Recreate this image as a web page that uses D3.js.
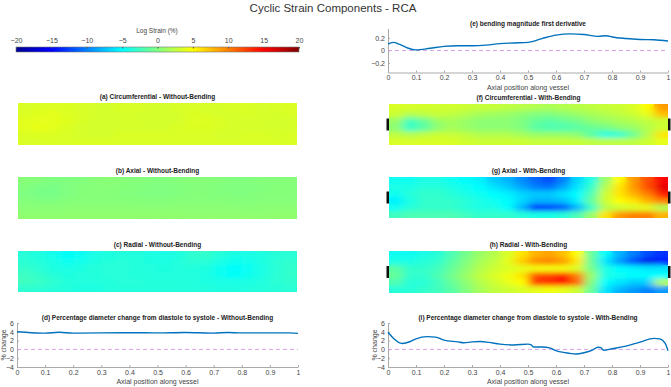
<!DOCTYPE html>
<html>
<head>
<meta charset="utf-8">
<script src="https://cdn.jsdelivr.net/npm/d3@7"></script>
<style>
  body { margin: 0; background: #fff; }
  text { font-family: "Liberation Sans", Arial, sans-serif; }
</style>
</head>
<body>
<div id="chart"></div>
<script>
// ---- data ----
const xTicks = [0, 0.1, 0.2, 0.3, 0.4, 0.5, 0.6, 0.7, 0.8, 0.9, 1]
const cbarTicks = [-20, -15, -10, -5, 0, 5, 10, 15, 20]

// (e) bending magnitude first derivative
const bendX = [0, 0.01, 0.02, 0.04, 0.07, 0.1, 0.15, 0.2, 0.25, 0.3, 0.35, 0.4, 0.45, 0.5, 0.55, 0.6, 0.65, 0.7, 0.75, 0.78, 0.8, 0.85, 0.9, 0.95, 1]
const bendY = [0.1, 0.12, 0.13, 0.1, 0.04, 0.01, 0.035, 0.065, 0.075, 0.075, 0.085, 0.11, 0.12, 0.13, 0.19, 0.245, 0.265, 0.255, 0.225, 0.235, 0.215, 0.19, 0.175, 0.17, 0.15]

// (d) diameter change without bending
const diamNoX = [0, 0.05, 0.1, 0.15, 0.2, 0.3, 0.4, 0.5, 0.6, 0.7, 0.75, 0.8, 0.9, 0.97, 1]
const diamNoY = [4.0, 3.8, 3.7, 3.9, 3.7, 3.75, 3.8, 3.75, 3.85, 3.7, 3.85, 3.75, 3.75, 3.75, 3.65]

// (i) diameter change with bending
const diamBX = [0, 0.02, 0.05, 0.08, 0.1, 0.14, 0.17, 0.2, 0.25, 0.27, 0.3, 0.33, 0.36, 0.4, 0.45, 0.5, 0.51, 0.52, 0.55, 0.58, 0.6, 0.65, 0.67, 0.7, 0.73, 0.75, 0.76, 0.77, 0.8, 0.85, 0.9, 0.95, 0.97, 0.99, 1]
const diamBY = [3.9, 2.5, 1.35, 1.8, 2.4, 2.9, 2.8, 2.1, 1.7, 1.5, 1.7, 1.8, 1.6, 1.2, 1.0, 1.2, 1.1, 0.55, 0.55, 0.3, -0.3, -0.9, -1.05, -0.75, -0.15, 0.5, 0.4, -0.2, 0.15, 0.75, 1.65, 2.5, 2.4, 1.35, -0.3]

// strain maps: 6 rows (top to bottom) x 20 segments along vessel
const circNoBend = [
  [3.5, 3.6, 3.7, 3.6, 3.5, 3.4, 3.4, 3.5, 3.5, 3.4, 3.4, 3.5, 3.5, 3.4, 3.4, 3.5, 3.5, 3.4, 3.5, 3.6],
  [3.6, 3.8, 3.9, 3.7, 3.5, 3.4, 3.3, 3.4, 3.4, 3.3, 3.3, 3.4, 3.6, 3.5, 3.4, 3.4, 3.5, 3.4, 3.4, 3.5],
  [3.8, 4.0, 4.0, 3.8, 3.5, 3.3, 3.3, 3.4, 3.4, 3.3, 3.3, 3.4, 3.7, 3.7, 3.5, 3.4, 3.4, 3.4, 3.3, 3.4],
  [3.9, 4.1, 3.9, 3.6, 3.4, 3.3, 3.3, 3.4, 3.4, 3.4, 3.4, 3.5, 3.6, 3.6, 3.5, 3.4, 3.4, 3.4, 3.3, 3.4],
  [3.6, 3.7, 3.6, 3.5, 3.4, 3.4, 3.4, 3.5, 3.5, 3.5, 3.5, 3.5, 3.5, 3.5, 3.4, 3.4, 3.5, 3.5, 3.4, 3.5],
  [3.5, 3.5, 3.5, 3.5, 3.5, 3.5, 3.5, 3.5, 3.5, 3.5, 3.5, 3.5, 3.5, 3.5, 3.5, 3.5, 3.5, 3.5, 3.5, 3.5]
]
const axialNoBend = [
  [0.3, 0.2, 0.0, 0.0, 0.1, 0.3, 0.4, 0.3, 0.2, 0.1, 0.1, 0.2, 0.3, 0.3, 0.2, 0.1, 0.1, 0.2, 0.2, 0.3],
  [0.1, -0.2, -0.3, 0.0, 0.2, 0.3, 0.3, 0.2, 0.1, 0.0, 0.0, 0.1, 0.2, 0.2, 0.1, 0.0, 0.0, 0.1, 0.2, 0.2],
  [0.0, -0.3, -0.3, 0.0, 0.2, 0.2, 0.2, 0.1, 0.1, 0.0, 0.0, 0.1, 0.2, 0.2, 0.1, 0.1, 0.1, 0.2, 0.2, 0.2],
  [0.2, 0.1, 0.1, 0.2, 0.3, 0.3, 0.3, 0.3, 0.2, 0.2, 0.2, 0.3, 0.3, 0.3, 0.3, 0.2, 0.2, 0.3, 0.3, 0.3],
  [0.4, 0.4, 0.4, 0.5, 0.5, 0.5, 0.5, 0.5, 0.5, 0.5, 0.5, 0.5, 0.5, 0.5, 0.5, 0.5, 0.4, 0.4, 0.5, 0.5],
  [0.6, 0.6, 0.6, 0.6, 0.6, 0.6, 0.6, 0.6, 0.6, 0.6, 0.6, 0.6, 0.6, 0.6, 0.6, 0.6, 0.6, 0.6, 0.6, 0.6]
]
const radialNoBend = [
  [-3.5, -3.8, -4.2, -4.8, -4.6, -4.0, -3.8, -3.6, -3.7, -3.9, -4.0, -3.8, -3.2, -3.0, -3.5, -3.9, -4.0, -3.8, -3.5, -3.4],
  [-3.4, -3.6, -4.0, -4.5, -4.3, -3.8, -3.6, -3.5, -3.6, -3.8, -3.9, -3.7, -3.3, -3.4, -4.0, -4.4, -4.2, -3.8, -3.4, -3.2],
  [-3.0, -3.4, -3.8, -4.0, -3.8, -3.6, -3.5, -3.5, -3.6, -3.7, -3.8, -3.7, -3.6, -3.8, -4.5, -4.9, -4.6, -4.0, -3.4, -3.0],
  [-2.6, -3.0, -3.5, -3.8, -3.7, -3.6, -3.5, -3.5, -3.6, -3.7, -3.7, -3.7, -3.7, -3.9, -4.4, -4.8, -4.4, -3.9, -3.4, -3.0],
  [-2.5, -2.7, -3.2, -3.6, -3.7, -3.7, -3.6, -3.5, -3.5, -3.6, -3.6, -3.6, -3.7, -3.8, -4.0, -4.0, -3.9, -3.7, -3.4, -3.2],
  [-3.2, -3.3, -3.5, -3.7, -3.8, -3.8, -3.7, -3.6, -3.6, -3.6, -3.6, -3.6, -3.7, -3.7, -3.8, -3.8, -3.7, -3.6, -3.5, -3.4]
]
const circBend = [
  [3.5, 3.5, 3.3, 3.2, 3.2, 3.0, 2.8, 2.8, 2.5, 2.3, 2.0, 1.8, 2.0, 2.3, 2.5, 2.8, 3.0, 3.5, 5.0, 9.0],
  [3.0, 2.0, 2.5, 2.8, 2.5, 2.0, 1.5, 1.2, 1.0, 0.5, 0.0, 0.0, 0.5, 1.0, 1.5, 2.0, 2.5, 3.0, 4.0, 7.5],
  [1.0, -2.5, -1.0, 1.0, 1.5, 1.0, 0.5, 0.5, 0.5, 0.0, -1.0, -1.5, -1.0, -0.5, 0.5, 1.0, 1.5, 2.0, 2.5, 3.0],
  [0.5, -3.0, -1.5, 0.5, 1.5, 1.0, 0.5, 0.5, 0.5, 0.0, -1.5, -2.0, -2.0, -1.5, -1.0, -0.5, 0.5, 1.0, 2.0, 3.0],
  [2.5, 2.0, 2.5, 3.0, 2.8, 2.5, 2.0, 2.0, 2.0, 1.5, 1.0, 1.0, 1.0, 0.5, -1.5, -4.0, -3.5, -1.0, 2.0, 6.0],
  [3.5, 3.5, 3.5, 3.5, 3.5, 3.2, 3.0, 3.0, 3.0, 3.0, 2.8, 2.8, 2.8, 2.8, 2.5, 2.5, 2.5, 2.5, 3.0, 4.0]
]
const axialBend = [
  [-4.5, -4.5, -4.0, -4.0, -4.5, -5.0, -5.5, -7.0, -8.0, -9.5, -11.0, -12.0, -10.0, -6.5, -4.0, 1.0, 5.0, 9.0, 12.0, 15.0],
  [-4.0, -4.0, -3.5, -3.5, -4.0, -4.5, -5.0, -6.0, -7.0, -8.5, -10.0, -10.5, -8.5, -6.0, -3.0, 2.0, 6.0, 9.0, 12.0, 16.0],
  [-4.5, -3.5, -3.0, -3.0, -3.5, -4.0, -4.5, -5.0, -5.5, -6.5, -7.0, -7.0, -6.0, -5.0, -2.0, 3.0, 6.0, 8.0, 10.0, 14.0],
  [-5.5, -4.0, -3.0, -3.0, -3.0, -3.5, -4.0, -4.5, -5.0, -6.5, -8.0, -8.0, -7.5, -5.5, -1.0, 3.0, 5.0, 6.0, 8.0, 10.0],
  [-4.5, -3.5, -3.0, -3.0, -3.0, -3.5, -4.0, -4.0, -5.0, -8.0, -14.0, -13.5, -12.0, -8.0, -3.0, 2.0, 3.0, 3.5, 4.0, 2.0],
  [-2.5, -2.0, -2.0, -2.0, -2.0, -2.5, -3.0, -3.0, -3.0, -3.5, -4.0, -4.0, -3.5, -2.0, 1.0, 6.0, 9.0, 10.0, 10.0, 8.0]
]
const radialBend = [
  [-4.5, -4.5, -4.0, -3.5, -2.0, -0.5, 1.0, 2.0, 3.5, 6.0, 8.0, 8.5, 7.5, 5.0, -1.0, -5.0, -8.0, -10.0, -12.0, -13.0],
  [-4.0, -4.0, -3.5, -3.0, -1.5, 0.0, 1.5, 2.5, 4.0, 7.0, 9.5, 10.0, 9.0, 6.0, -1.0, -6.0, -9.0, -12.0, -16.0, -14.0],
  [-1.5, -3.0, -3.0, -2.5, -1.0, 0.5, 2.0, 3.0, 3.5, 4.0, 4.5, 4.5, 4.5, 3.5, -0.5, -4.0, -5.0, -5.5, -6.0, -6.0],
  [-1.0, -3.0, -3.0, -2.0, -0.5, 1.0, 2.5, 3.5, 4.5, 6.0, 12.0, 12.5, 14.0, 10.0, 1.0, -4.0, -4.5, -5.0, -5.0, -5.0],
  [-2.0, -3.5, -3.5, -2.5, -1.0, 0.5, 2.0, 3.0, 4.0, 5.0, 13.0, 13.5, 15.0, 11.0, 0.0, -5.0, -6.0, -7.0, -7.0, 2.0],
  [-3.5, -3.5, -3.0, -2.5, -1.5, 0.0, 1.5, 2.5, 3.0, 3.5, 4.0, 4.5, 4.0, 3.0, -1.0, -6.0, -8.0, -9.0, -10.0, -9.0]
]

// ---- layout ----
const width = 671
const height = 387
const L = { x0: 17, x1: 298 }
const R = { x0: 388, x1: 668 }
const textColor = '#444'
const axisColor = '#aaa'
const lineColor = '#0072bd'

const jet = d3.scaleLinear()
  .domain([-20, -15, -5, 5, 15, 20])
  .range(['#00008f', '#0000ff', '#00ffff', '#ffff00', '#ff0000', '#800000'])
  .clamp(true)

const svg = d3.select('#chart').append('svg')
  .attr('width', width)
  .attr('height', height)

const defs = svg.append('defs')

svg.append('text')
  .attr('x', 333).attr('y', 12)
  .attr('text-anchor', 'middle')
  .attr('font-size', 11.5)
  .attr('fill', '#333')
  .text('Cyclic Strain Components - RCA')

// colorbar
const cbX = d3.scaleLinear().domain([-20, 20]).range([16, 299])
const grad = defs.append('linearGradient').attr('id', 'jetgrad')
grad.selectAll('stop')
  .data(d3.range(-20, 20.01, 2.5))
  .join('stop')
  .attr('offset', d => (d + 20) / 40)
  .attr('stop-color', d => jet(d))

svg.append('rect')
  .attr('x', cbX(-20)).attr('y', 47)
  .attr('width', cbX(20) - cbX(-20)).attr('height', 5)
  .attr('fill', 'url(#jetgrad)')
  .attr('stroke', '#777').attr('stroke-width', 0.6)

svg.append('g')
  .attr('transform', 'translate(0,47)')
  .call(d3.axisTop(cbX).tickValues(cbarTicks).tickSizeInner(-1.5).tickSizeOuter(0).tickPadding(4))
  .call(g => g.select('.domain').remove())
  .call(g => g.selectAll('line').attr('stroke', '#555'))
  .call(g => g.selectAll('text').attr('font-size', 7).attr('fill', textColor).attr('font-family', null))

svg.append('text')
  .attr('x', 157).attr('y', 33)
  .attr('text-anchor', 'middle')
  .attr('font-size', 6.5)
  .attr('fill', textColor)
  .text('Log Strain (%)')

// ---- heat maps ----
const blur = defs.append('filter').attr('id', 'soft')
  .attr('x', '-5%').attr('y', '-10%').attr('width', '110%').attr('height', '120%')
blur.append('feGaussianBlur').attr('stdDeviation', '5 2.6')

const drawMap = (grid, x0, x1, y0, y1, id, title, markers) => {
  const cols = d3.scaleBand().domain(d3.range(grid[0].length)).range([x0, x1])
  const rows = d3.scaleBand().domain(d3.range(grid.length)).range([y0, y1])
  const cells = grid.flatMap((row, r) => row.map((v, c) => ({ r, c, v })))

  defs.append('clipPath').attr('id', id)
    .append('rect')
    .attr('x', x0).attr('y', y0)
    .attr('width', x1 - x0).attr('height', y1 - y0)

  const g = svg.append('g').attr('clip-path', `url(#${id})`)
  const layer = sel => sel.selectAll('rect')
    .data(cells)
    .join('rect')
    .attr('x', d => cols(d.c))
    .attr('y', d => rows(d.r))
    .attr('width', cols.bandwidth() + 0.5)
    .attr('height', rows.bandwidth() + 0.5)
    .attr('fill', d => jet(d.v))

  g.append('g').call(layer)
  g.append('g').attr('filter', 'url(#soft)').call(layer)

  svg.append('text')
    .attr('x', (x0 + x1) / 2).attr('y', y0 - 4)
    .attr('text-anchor', 'middle')
    .attr('font-size', 6.5)
    .attr('font-weight', 'bold')
    .attr('fill', '#222')
    .text(title)

  if (markers) {
    const mid = (y0 + y1) / 2
    svg.append('g').selectAll('rect')
      .data([x0 - 2.5, x1])
      .join('rect')
      .attr('x', d => d).attr('y', mid - 6)
      .attr('width', 2.5).attr('height', 12)
      .attr('fill', '#111')
  }
}

drawMap(circNoBend, 18, 297, 103, 145, 'ca', '(a) Circumferential - Without-Bending', false)
drawMap(axialNoBend, 18, 297, 177, 219, 'cb', '(b) Axial - Without-Bending', false)
drawMap(radialNoBend, 18, 297, 251, 292, 'cc', '(c) Radial - Without-Bending', false)
drawMap(circBend, 389, 668, 104, 145, 'cf', '(f) Circumferential - With-Bending', true)
drawMap(axialBend, 389, 668, 177, 218, 'cg', '(g) Axial - With-Bending', true)
drawMap(radialBend, 389, 668, 251, 293, 'ch', '(h) Radial - With-Bending', true)

// ---- line plots ----
const drawLine = ({ xs, ys, box, yDomain, yTicks, title, xLabel, yLabel }) => {
  const x = d3.scaleLinear().domain([0, 1]).range([box.x0, box.x1])
  const y = d3.scaleLinear().domain(yDomain).range([box.y1, box.y0])

  const style = g => {
    g.select('.domain').attr('stroke', axisColor)
    g.selectAll('line').attr('stroke', axisColor)
    g.selectAll('text').attr('font-size', 7).attr('fill', textColor).attr('font-family', null)
  }

  svg.append('g')
    .attr('transform', `translate(0,${box.y1})`)
    .call(d3.axisBottom(x).tickValues(xTicks).tickFormat(d3.format('~g')).tickSizeInner(-2).tickSizeOuter(0).tickPadding(3))
    .call(style)

  svg.append('g')
    .attr('transform', `translate(${box.x0},0)`)
    .call(d3.axisLeft(y).tickValues(yTicks).tickFormat(d3.format('~g')).tickSizeInner(-2).tickSizeOuter(0).tickPadding(3))
    .call(style)

  svg.append('line')
    .attr('x1', x(0)).attr('x2', x(1))
    .attr('y1', y(0)).attr('y2', y(0))
    .attr('stroke', '#d5a3e6')
    .attr('stroke-width', 1)
    .attr('stroke-dasharray', '4,3')

  const line = d3.line()
    .x(d => x(d[0]))
    .y(d => y(d[1]))
    .curve(d3.curveMonotoneX)

  svg.append('path')
    .datum(d3.zip(xs, ys))
    .attr('fill', 'none')
    .attr('stroke', lineColor)
    .attr('stroke-width', 1.4)
    .attr('stroke-linejoin', 'round')
    .attr('d', line)

  svg.append('text')
    .attr('x', (box.x0 + box.x1) / 2).attr('y', box.y0 - 3)
    .attr('text-anchor', 'middle')
    .attr('font-size', 6.5)
    .attr('font-weight', 'bold')
    .attr('fill', '#222')
    .text(title)

  if (xLabel) {
    svg.append('text')
      .attr('x', (box.x0 + box.x1) / 2).attr('y', box.y1 + 17)
      .attr('text-anchor', 'middle')
      .attr('font-size', 7)
      .attr('fill', textColor)
      .text(xLabel)
  }
  if (yLabel) {
    svg.append('text')
      .attr('transform', `translate(${box.x0 - 11},${(box.y0 + box.y1) / 2}) rotate(-90)`)
      .attr('text-anchor', 'middle')
      .attr('font-size', 7)
      .attr('fill', textColor)
      .text(yLabel)
  }
}

drawLine({
  xs: bendX, ys: bendY,
  box: { x0: R.x0, x1: R.x1, y0: 28.5, y1: 72.5 },
  yDomain: [-0.35, 0.35], yTicks: [-0.2, 0, 0.2],
  title: '(e) bending magnitude first derivative',
  xLabel: 'Axial position along vessel'
})

drawLine({
  xs: diamNoX, ys: diamNoY,
  box: { x0: L.x0, x1: L.x1, y0: 323, y1: 367 },
  yDomain: [-4, 6], yTicks: [-4, -2, 0, 2, 4, 6],
  title: '(d) Percentage diameter change from diastole to systole - Without-Bending',
  xLabel: 'Axial position along vessel', yLabel: '% change'
})

drawLine({
  xs: diamBX, ys: diamBY,
  box: { x0: R.x0, x1: R.x1, y0: 323, y1: 367 },
  yDomain: [-4, 6], yTicks: [-4, -2, 0, 2, 4, 6],
  title: '(i) Percentage diameter change from diastole to systole - With-Bending',
  xLabel: 'Axial position along vessel', yLabel: '% change'
})
</script>
</body>
</html>
